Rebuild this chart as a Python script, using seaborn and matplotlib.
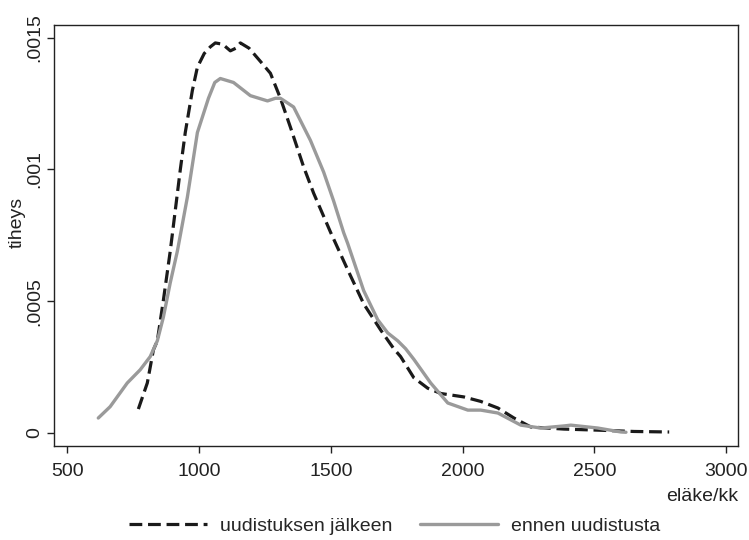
import matplotlib
matplotlib.use("Agg")
import matplotlib.pyplot as plt
import seaborn as sns
import pandas as pd
from matplotlib.ticker import FixedLocator, FixedFormatter

# density curves (eläke/kk vs tiheys)
after_x = [770, 804, 827, 842, 865, 891, 929, 948, 975, 994, 1020, 1043, 1062,
           1090, 1119, 1140, 1157, 1190, 1233, 1271, 1309, 1347, 1397, 1435,
           1500, 1564, 1625, 1690, 1739, 1765, 1815, 1868, 1918, 2005, 2069,
           2134, 2195, 2259, 2385, 2513, 2650, 2784]
after_y = [0.000091, 0.00019, 0.000315, 0.00035, 0.000504, 0.00069, 0.000998,
           0.00114, 0.0013, 0.001388, 0.00144, 0.001465, 0.00148, 0.001475,
           0.00145, 0.00146, 0.00148, 0.00146, 0.00141, 0.001365, 0.00127,
           0.00116, 0.00101, 0.00091, 0.00076, 0.00062, 0.00049, 0.00039,
           0.00032, 0.00029, 0.00021, 0.00017, 0.00015, 0.000137, 0.00012,
           0.000095, 0.000057, 0.000023, 0.000015, 0.000011, 0.000006, 0.000004]

before_x = [618, 663, 728, 777, 815, 842, 865, 891, 918, 956, 994, 1036, 1060,
            1081, 1131, 1195, 1260, 1290, 1309, 1359, 1423, 1473, 1511, 1549,
            1564, 1625, 1678, 1716, 1754, 1784, 1815, 1879, 1944, 2020, 2069,
            2134, 2221, 2297, 2385, 2411, 2513, 2601, 2620]
before_y = [0.000057, 0.0001, 0.00019, 0.00024, 0.00029, 0.00035, 0.00044,
            0.00057, 0.00069, 0.000895, 0.00114, 0.00127, 0.00133, 0.001345,
            0.00133, 0.00128, 0.00126, 0.00127, 0.00127, 0.001237, 0.00111,
            0.00099, 0.00088, 0.00076, 0.00072, 0.00054, 0.00043, 0.00038,
            0.00035, 0.00032, 0.00028, 0.00019, 0.000114, 0.000087, 0.000087,
            0.000076, 0.00003, 0.000019, 0.000027, 0.00003, 0.000019, 0.000004,
            0.000003]

label_after = "uudistuksen jälkeen"
label_before = "ennen uudistusta"
x_ticks = [500, 1000, 1500, 2000, 2500, 3000]
y_ticks = [0, 0.0005, 0.001, 0.0015]
y_tick_labels = ["0", ".0005", ".001", ".0015"]

df_after = pd.DataFrame({"x": after_x, "y": after_y})
df_before = pd.DataFrame({"x": before_x, "y": before_y})

sns.set_style("ticks")
plt.rcParams["font.family"] = ["Liberation Sans", "DejaVu Sans"]
plt.rcParams["font.size"] = 14

fig = plt.figure(figsize=(7.49, 5.40), dpi=100)
ax = fig.add_axes([0.0721, 0.174, 0.9132, 0.7797])

sns.lineplot(data=df_after, x="x", y="y", ax=ax, color="#1a1a1a", lw=2.3,
             label=label_after, sort=False, estimator=None)
ax.lines[-1].set_dashes((4, 1.8))
sns.lineplot(data=df_before, x="x", y="y", ax=ax, color="#9a9a9a", lw=2.4,
             label=label_before, sort=False, estimator=None)

ax.set_xlim(450, 3045)
ax.set_ylim(-0.0000493, 0.001548)
ax.xaxis.set_major_locator(FixedLocator(x_ticks))
ax.yaxis.set_major_locator(FixedLocator(y_ticks))
ax.yaxis.set_major_formatter(FixedFormatter(y_tick_labels))
for lab in ax.get_yticklabels():
    lab.set_rotation(90)
    lab.set_va("center")
ax.tick_params(axis="both", direction="out", length=5, width=1,
               color="#222222", labelsize=14, labelcolor="#222222")
ax.tick_params(axis="x", pad=7)
ax.tick_params(axis="y", pad=3)

for sp in ax.spines.values():
    sp.set_visible(True)
    sp.set_linewidth(1)
    sp.set_color("#222222")

ax.set_ylabel("tiheys", fontsize=14, color="#222222")
ax.yaxis.set_label_coords(-0.042, 0.532)
ax.set_xlabel("eläke/kk", fontsize=14, color="#222222", ha="right")
ax.xaxis.set_label_coords(1.0, -0.1)

ax.legend_.remove()
handles = ax.get_lines()
fig.legend(handles[:2], [label_after, label_before], loc="center",
           bbox_to_anchor=(0.527, 0.026), ncol=2, frameon=False, fontsize=14,
           handlelength=4.0, handletextpad=0.7, columnspacing=1.4)

fig.savefig("out.png", dpi=100)
